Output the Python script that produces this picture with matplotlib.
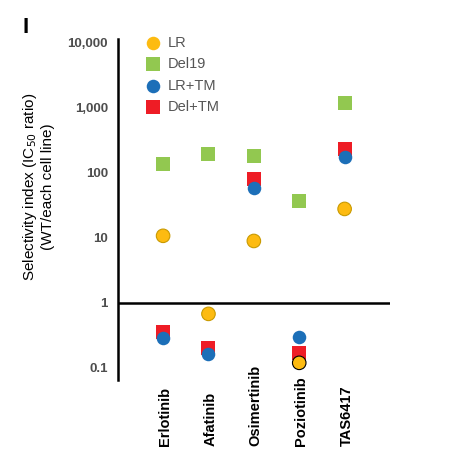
import matplotlib
matplotlib.use("Agg")
import matplotlib.pyplot as plt
import matplotlib.transforms as mtransforms
import numpy as np

plt.rcParams['font.family'] = ['Liberation Sans', 'DejaVu Sans']

drugs = ["Erlotinib", "Afatinib", "Osimertinib", "Poziotinib", "TAS6417"]
lr = [10.8, 0.68, 9.0, 0.12, 28]
del19 = [137, 195, 181, 37.5, 1200]
lr_tm = [0.29, 0.164, 59, 0.30, 176]
del_tm = [0.36, 0.20, 81, 0.17, 234]
lr_edge = ["#C99A00", "#C99A00", "#C99A00", "#000000", "#C99A00"]
yticks = [0.1, 1, 10, 100, 1000, 10000]
ytick_labels = ["0.1", "1", "10", "100", "1,000", "10,000"]

W, H = 459, 461
fig = plt.figure(figsize=(W / 100, H / 100), dpi=100)
ax = fig.add_axes([117.7 / W, 1 - 380 / H, (390 - 117.7) / W, 341 / H])

x = np.arange(1, len(drugs) + 1)
s = 95
h_del19 = ax.scatter(x, del19, marker='s', s=s, color='#92C850', linewidths=0, zorder=3)
h_deltm = ax.scatter(x, del_tm, marker='s', s=s, color='#EE1C25', linewidths=0, zorder=3)
h_lrtm = ax.scatter(x, lr_tm, marker='o', s=s, color='#1C6FB8', linewidths=0, zorder=4)
ax.scatter(x, lr, marker='o', s=s, color='#FDBB11', edgecolors=lr_edge, linewidths=0.8, zorder=5)
h_lr = ax.scatter([], [], marker='o', s=s, color='#FDBB11', linewidths=0)

ax.set_yscale('log')
ax.set_ylim(10 ** -1.185, 10 ** 4.0615)
ax.set_xlim(0, 6)
ax.axhline(1, color='black', lw=1.8, zorder=2)

ax.set_yticks(yticks)
ax.set_yticklabels(ytick_labels, fontsize=9.5, fontweight='bold', color='#4d4d4d')
ax.yaxis.set_minor_locator(matplotlib.ticker.NullLocator())
ax.tick_params(axis='y', length=0, pad=7)
ax.set_xticks([])

for sp in ['top', 'right', 'bottom']:
    ax.spines[sp].set_visible(False)
ax.spines['left'].set_linewidth(1.8)

trans = mtransforms.blended_transform_factory(ax.transData, ax.transAxes)
for xi, name in zip(x, drugs):
    ax.text(xi + 0.04, -66 / 341, name, transform=trans, rotation=90, ha='center', va='bottom',
            fontsize=10.5, fontweight='bold', color='black')

leg = fig.legend([h_lr, h_del19, h_lrtm, h_deltm], ["LR", "Del19", "LR+TM", "Del+TM"],
                 loc='upper left', bbox_to_anchor=(145.4 / W, 1 - 36 / H),
                 frameon=False, fontsize=10.5, handlelength=1.0, handletextpad=0.5,
                 labelspacing=0.5, borderpad=0, borderaxespad=0, scatterpoints=1)
for t in leg.get_texts():
    t.set_color('#555555')

fig.text(38 / W, 1 - 187 / H, "Selectivity index (IC$_{50}$ ratio)\n(WT/each cell line)",
         rotation=90, ha='center', va='center', fontsize=11, multialignment='center')
fig.text(22 / W, 1 - 33 / H, "I", fontsize=16, fontweight='bold', va='baseline', ha='left')

fig.savefig("out.png", dpi=100)
